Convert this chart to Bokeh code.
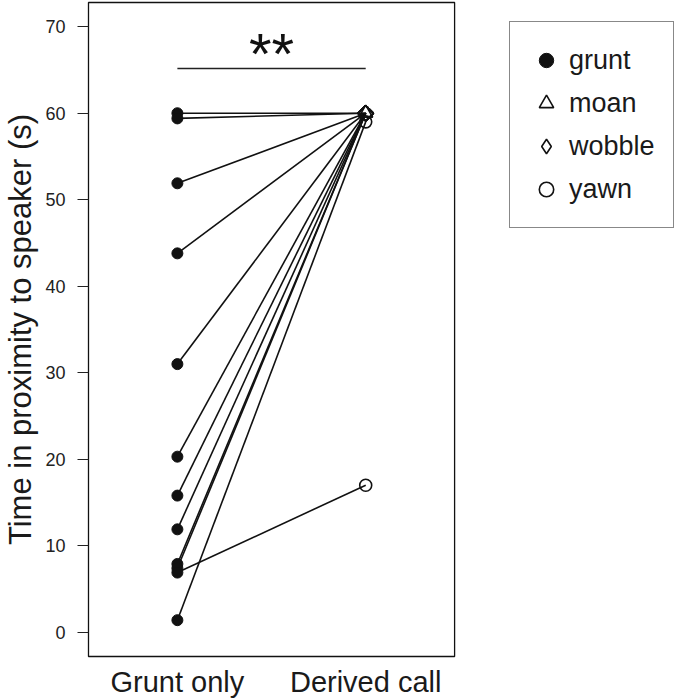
import math
from bokeh.plotting import figure
from bokeh.models import ColumnDataSource, FixedTicker, Range1d, Legend, LegendItem, BoxAnnotation
from bokeh.core.properties import value
from bokeh.embed import file_html
from bokeh.resources import INLINE

# ---- data ----
conditions = ["Grunt only", "Derived call"]
grunt_only = [60.0, 59.4, 51.9, 43.8, 31.0, 20.3, 15.8, 11.9, 7.9, 7.4, 6.9, 1.4]
derived_call = [60.0, 60.0, 60.0, 60.0, 60.0, 60.0, 60.0, 60.0, 60.0, 60.0, 17.0, 59.0]
derived_type = ["wobble", "moan", "wobble", "wobble", "wobble", "wobble",
                "wobble", "wobble", "wobble", "wobble", "yawn", "yawn"]
legend_labels = ["grunt", "moan", "wobble", "yawn"]
y_ticks = [0, 10, 20, 30, 40, 50, 60, 70]
signif_label = "**"
signif_y_line = 65.16
signif_y_text = 66.9   # baseline of the asterisks (glyphs sit above it)

FONT = "Liberation Sans"
x_pos = {c: i + 1 for i, c in enumerate(conditions)}

# R-style plot box in data units; the frame is wider so that it can host the legend
BOX_X = (0.528, 2.472)
BOX_Y = (-2.8, 72.8)

p = figure(width=675, height=700, output_backend="svg", toolbar_location=None,
           x_range=Range1d(0.5174, 3.645), y_range=Range1d(-3.03, 73.03),
           min_border_left=86, min_border_right=0, min_border_top=0, min_border_bottom=40)
p.grid.visible = False
p.outline_line_color = None
p.background_fill_color = "white"
p.border_fill_color = "white"

p.add_layout(BoxAnnotation(left=BOX_X[0], right=BOX_X[1], bottom=BOX_Y[0], top=BOX_Y[1],
                           fill_alpha=0, line_color="#111111", line_alpha=1.0,
                           line_width=1.3, level="underlay"))

# y axis
p.yaxis.ticker = FixedTicker(ticks=y_ticks)
p.yaxis.axis_line_color = None
p.yaxis.major_tick_out = 9
p.yaxis.major_tick_in = 2
p.yaxis.minor_tick_line_color = None
p.yaxis.major_tick_line_color = "#222222"
p.yaxis.major_tick_line_width = 1.2
p.yaxis.major_label_standoff = 12
p.yaxis.major_label_text_font = FONT
p.yaxis.major_label_text_font_size = "18px"
p.yaxis.major_label_text_color = "#222222"
p.yaxis.axis_label = "Time in proximity to speaker (s)"
p.yaxis.axis_label_text_font = FONT
p.yaxis.axis_label_text_font_size = "31px"
p.yaxis.axis_label_text_font_style = "normal"
p.yaxis.axis_label_text_color = "#1a1a1a"
p.yaxis.axis_label_standoff = 4

# x axis
p.xaxis.ticker = FixedTicker(ticks=[x_pos[c] for c in conditions])
p.xaxis.major_label_overrides = {x_pos[c]: c for c in conditions}
p.xaxis.axis_line_color = None
p.xaxis.major_tick_out = 0
p.xaxis.major_tick_in = 0
p.xaxis.major_tick_line_color = None
p.xaxis.minor_tick_line_color = None
p.xaxis.major_label_standoff = 7
p.xaxis.major_label_text_font = FONT
p.xaxis.major_label_text_font_size = "29px"
p.xaxis.major_label_text_color = "#1a1a1a"

# connecting lines
n = len(grunt_only)
seg = ColumnDataSource(dict(x0=[x_pos["Grunt only"]] * n, y0=grunt_only,
                            x1=[x_pos["Derived call"]] * n, y1=derived_call))
p.segment("x0", "y0", "x1", "y1", source=seg, line_color="#111111", line_width=1.6)

# significance bar and stars
p.segment(x0=[x_pos["Grunt only"]], y0=[signif_y_line], x1=[x_pos["Derived call"]], y1=[signif_y_line],
          line_color="#222222", line_width=1.5)
p.text(x=[(x_pos["Grunt only"] + x_pos["Derived call"]) / 2], y=[signif_y_text], text=[signif_label],
       text_font=value(FONT), text_font_size="58px", text_align="center", text_baseline="alphabetic",
       text_color="#111111")

# markers
src_g = ColumnDataSource(dict(x=[x_pos["Grunt only"]] * n, y=grunt_only))
r_grunt = p.scatter("x", "y", source=src_g, marker="circle", size=11,
                    fill_color="#111111", line_color="#111111")

def sub(kind):
    ys = [v for v, t in zip(derived_call, derived_type) if t == kind]
    return ColumnDataSource(dict(x=[x_pos["Derived call"]] * len(ys), y=ys))

r_moan = p.scatter("x", "y", source=sub("moan"), marker="triangle", size=14,
                   fill_alpha=0, line_color="#111111", line_width=1.6)
r_wobble = p.scatter("x", "y", source=sub("wobble"), marker="square", angle=math.pi / 4, size=11,
                     fill_alpha=0, line_color="#111111", line_width=1.6)
r_yawn = p.scatter("x", "y", source=sub("yawn"), marker="circle", size=12,
                   fill_alpha=0, line_color="#111111", line_width=1.6)
# legend key for wobble (legend keys do not rotate a square); holds no visible point
r_wobble_key = p.scatter(x=[float("nan")], y=[float("nan")], marker="diamond", size=11,
                         fill_alpha=0, line_color="#111111", line_width=1.6)

legend = Legend(items=[LegendItem(label=legend_labels[0], renderers=[r_grunt]),
                       LegendItem(label=legend_labels[1], renderers=[r_moan]),
                       LegendItem(label=legend_labels[2], renderers=[r_wobble_key]),
                       LegendItem(label=legend_labels[3], renderers=[r_yawn])],
                location=(423, 430))
legend.glyph_width = 36
legend.glyph_height = 40
legend.spacing = 3
legend.padding = 18
legend.label_standoff = 5
legend.label_text_font = FONT
legend.label_text_font_size = "27px"
legend.label_text_color = "#1a1a1a"
legend.border_line_color = "#111111"
legend.border_line_width = 1.3
legend.background_fill_alpha = 1
legend.margin = 0
p.add_layout(legend, "center")

open("out.html", "w").write(file_html(p, INLINE))
